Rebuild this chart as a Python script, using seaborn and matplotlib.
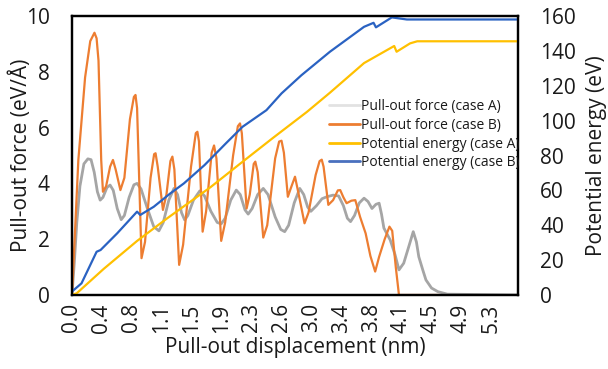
import matplotlib
matplotlib.use("Agg")
import matplotlib.pyplot as plt
import seaborn as sns
import pandas as pd
from matplotlib.lines import Line2D

# ---------------- data ----------------
force_a_x = [0.0, 0.03, 0.06, 0.10, 0.15, 0.20, 0.24, 0.28, 0.32, 0.355, 0.39, 0.44,
             0.48, 0.52, 0.57, 0.62, 0.66, 0.72, 0.78, 0.82, 0.87, 0.95, 1.03, 1.095,
             1.15, 1.22, 1.285, 1.33, 1.38, 1.42, 1.46, 1.53, 1.61, 1.67, 1.75, 1.83,
             1.88, 1.93, 2.00, 2.07, 2.12, 2.18, 2.22, 2.27, 2.34, 2.41, 2.47, 2.56,
             2.63, 2.68, 2.73, 2.80, 2.87, 2.92, 2.97, 3.01, 3.08, 3.15, 3.21, 3.29,
             3.36, 3.42, 3.47, 3.51, 3.56, 3.62, 3.68, 3.73, 3.78, 3.83, 3.87, 3.90,
             3.93, 4.01, 4.07, 4.12, 4.18, 4.24, 4.30, 4.34, 4.37, 4.42, 4.46, 4.53,
             4.61, 4.73, 5.62]
force_a_y = [0.0, 1.2, 2.58, 3.9, 4.7, 4.88, 4.85, 4.4, 3.7, 3.4, 3.5, 3.85,
             3.94, 3.75, 3.1, 2.7, 2.85, 3.5, 3.95, 4.0, 3.8, 3.1, 2.45, 2.3,
             2.6, 3.4, 3.82, 3.6, 2.95, 2.69, 2.85, 3.4, 3.73, 3.55, 3.0, 2.6,
             2.55, 2.75, 3.4, 3.76, 3.6, 3.05, 2.9, 3.1, 3.6, 3.82, 3.6, 2.8,
             2.35, 2.27, 2.5, 3.3, 3.82, 3.6, 3.15, 3.0, 3.2, 3.45, 3.52, 3.58,
             3.55, 3.2, 2.75, 2.63, 2.85, 3.3, 3.47, 3.35, 3.1, 3.25, 3.29, 2.9,
             2.4, 1.97, 1.45, 0.9, 1.14, 1.7, 2.27, 1.9, 1.37, 0.9, 0.54, 0.25,
             0.12, 0.03, 0.0]

force_b_x = [0.0, 0.03, 0.08, 0.165, 0.23, 0.283, 0.31, 0.334, 0.368, 0.39, 0.43,
             0.48, 0.516, 0.55, 0.61, 0.66, 0.73, 0.78, 0.80, 0.82, 0.876, 0.92,
             0.99, 1.035, 1.053, 1.08, 1.146, 1.19, 1.24, 1.265, 1.29, 1.35, 1.40,
             1.50, 1.56, 1.58, 1.60, 1.646, 1.69, 1.76, 1.79, 1.82, 1.88, 1.93,
             2.03, 2.09, 2.117, 2.14, 2.20, 2.24, 2.29, 2.31, 2.34, 2.41, 2.46,
             2.56, 2.61, 2.64, 2.67, 2.72, 2.76, 2.81, 2.85, 2.93, 2.98, 3.07,
             3.12, 3.147, 3.17, 3.23, 3.29, 3.35, 3.38, 3.42, 3.46, 3.52, 3.57,
             3.63, 3.70, 3.76, 3.82, 3.87, 3.94, 4.0, 4.035, 4.08, 4.12, 4.63]
force_b_y = [0.0, 1.8, 4.84, 7.8, 9.1, 9.4, 9.2, 8.4, 4.84, 3.7, 3.9,
             4.6, 4.84, 4.5, 3.76, 4.2, 6.3, 7.1, 7.17, 6.7, 1.32, 1.9,
             4.2, 5.05, 5.08, 4.6, 3.05, 3.6, 4.8, 4.96, 4.5, 1.08, 1.8,
             4.6, 5.8, 5.85, 5.5, 2.27, 3.0, 5.1, 5.36, 4.9, 1.94, 2.6,
             5.0, 6.05, 6.15, 5.8, 3.1, 3.6, 4.7, 4.78, 4.4, 2.06, 2.5,
             4.9, 5.5, 5.53, 5.1, 3.52, 3.85, 4.24, 3.7, 2.57, 2.95, 4.3,
             4.8, 4.85, 4.6, 3.23, 3.4, 3.75, 3.76, 3.5, 3.29, 3.38, 3.4,
             2.8, 2.21, 1.4, 0.84, 1.37, 2.0, 2.45, 2.3, 1.0, 0.0, 0.0]

energy_a_x = [0.0, 0.06, 0.40, 0.82, 1.2, 1.75, 2.11, 2.53, 2.96, 3.25, 3.68,
              4.06, 4.09, 4.26, 4.35, 5.62]
energy_a_y = [0.0, 1.0, 15.0, 31.0, 44.0, 62.0, 75.0, 90.0, 105.0, 116.0, 133.0,
              142.8, 139.5, 144.3, 145.5, 145.5]

energy_b_x = [0.0, 0.12, 0.31, 0.36, 0.57, 0.82, 0.86, 1.03, 1.24, 1.41, 1.67,
              1.94, 2.15, 2.45, 2.64, 2.89, 3.25, 3.68, 3.80, 3.83, 4.03, 4.22, 5.62]
energy_b_y = [2.0, 6.7, 24.8, 25.8, 35.4, 47.8, 45.9, 50.6, 58.3, 64.0, 74.5,
              87.0, 96.5, 106.0, 115.6, 126.0, 139.5, 153.8, 156.1, 153.5, 159.2,
              158.0, 158.0]

x_tick_labels = ["0.0", "0.4", "0.8", "1.1", "1.5", "1.9", "2.3", "2.6",
                 "3.0", "3.4", "3.8", "4.1", "4.5", "4.9", "5.3"]
x_tick_step = 0.377
left_ticks = [0, 2, 4, 6, 8, 10]
right_ticks = [0, 20, 40, 60, 80, 100, 120, 140, 160]

series_labels = ["Pull-out force (case A)", "Pull-out force (case B)",
                 "Potential energy (case A)", "Potential energy (case B)"]
series_colors = ["#A5A5A5", "#ED7D31", "#FFC000", "#2A62C2"]
legend_colors = ["#E2E2E2", "#ED7D31", "#FFC000", "#4A70BE"]

# ---------------- styling ----------------
sns.set_theme(style="white")
plt.rcParams['font.family'] = ['Open Sans', 'DejaVu Sans']

W, H = 608, 369
fig = plt.figure(figsize=(W / 100, H / 100), dpi=100)
ax = fig.add_axes([72 / W, 1 - 295 / H, 446 / W, 279 / H])
ax2 = ax.twinx()

dfa = pd.DataFrame({"x": force_a_x, "y": force_a_y})
dfb = pd.DataFrame({"x": force_b_x, "y": force_b_y})
dea = pd.DataFrame({"x": energy_a_x, "y": energy_a_y})
deb = pd.DataFrame({"x": energy_b_x, "y": energy_b_y})

sns.lineplot(data=dfa, x="x", y="y", ax=ax, color=series_colors[0], lw=2.0,
             estimator=None, sort=False)
sns.lineplot(data=dfb, x="x", y="y", ax=ax, color=series_colors[1], lw=1.6,
             estimator=None, sort=False)
sns.lineplot(data=dea, x="x", y="y", ax=ax2, color=series_colors[2], lw=1.6,
             estimator=None, sort=False)
sns.lineplot(data=deb, x="x", y="y", ax=ax2, color=series_colors[3], lw=1.6,
             estimator=None, sort=False)

ax.set_xlim(0, 5.62)
ax.set_ylim(0, 10)
ax2.set_ylim(0, 160)

ax.set_xticks([i * x_tick_step for i in range(len(x_tick_labels))])
ax.set_xticklabels(x_tick_labels, rotation=90)
ax.set_yticks(left_ticks)
ax.set_yticklabels([str(t) for t in left_ticks])
ax2.set_yticks(right_ticks)
ax2.set_yticklabels([str(t) for t in right_ticks])

ax.tick_params(axis='x', length=0, pad=6, labelsize=15, colors='#1a1a1a')
ax.tick_params(axis='y', length=0, pad=16, labelsize=15, colors='#1a1a1a')
ax2.tick_params(axis='y', length=0, pad=16, labelsize=15, colors='#1a1a1a')

ax.set_xlabel("Pull-out displacement (nm)", fontsize=15, color='#1a1a1a', labelpad=3)
ax.set_ylabel("Pull-out force (eV/Å)", fontsize=15, color='#1a1a1a')
ax2.set_ylabel("Potential energy (eV)", fontsize=15, color='#1a1a1a')
ax.yaxis.set_label_coords(-0.09, 0.5)
ax2.yaxis.set_label_coords(1.152, 0.5)

for a in (ax, ax2):
    for s in a.spines.values():
        s.set_color('black')
        s.set_linewidth(1.6)
ax.grid(False)
ax2.grid(False)

handles = [Line2D([0], [0], color=c, lw=2) for c in legend_colors]
leg = ax2.legend(handles, series_labels, loc='upper left',
                 bbox_to_anchor=(329 / W, 1 - 99 / H), bbox_transform=fig.transFigure,
                 frameon=False, fontsize=10, borderpad=0, borderaxespad=0,
                 handlelength=2.2, handletextpad=0.1, labelspacing=0.27)
for t in leg.get_texts():
    t.set_color('#1a1a1a')

fig.savefig("out.png", dpi=100)
